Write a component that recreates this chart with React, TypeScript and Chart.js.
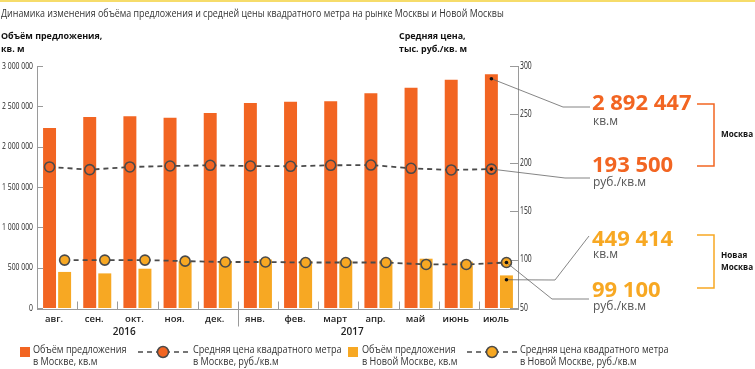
import { useEffect, useRef } from "react";
import { Chart, registerables } from "chart.js";

Chart.register(...registerables);

const months = ["авг.", "сен.", "окт.", "ноя.", "дек.", "янв.", "фев.", "март", "апр.", "май", "июнь", "июль"];
const years = ["2016", "2017"];
const moscowVolume = [2228000, 2364000, 2372000, 2355000, 2413000, 2537000, 2554000, 2558000, 2657000, 2727000, 2826000, 2892447];
const newMoscowVolume = [443000, 425000, 483000, 575000, 578000, 597000, 580000, 583000, 585000, 607000, 570000, 400000];
const moscowPrice = [195.7, 192.9, 195.7, 196.7, 197.4, 196.7, 196.4, 197.4, 197.7, 194.3, 192.6, 193.5];
const newMoscowPrice = [99.5, 99.5, 99.5, 98.4, 97.5, 97.5, 97.0, 97.0, 97.0, 95.0, 95.0, 97.0];
const leftTicks = [0, 500000, 1000000, 1500000, 2000000, 2500000, 3000000];
const leftTickLabels = ["0", "500 000", "1 000 000", "1 500 000", "2 000 000", "2 500 000", "3 000 000"];
const rightTicks = [50, 100, 150, 200, 250, 300];
const rightTickLabels = ["50", "100", "150", "200", "250", "300"];
const titleText = "Динамика изменения объёма предложения и средней цены квадратного метра на рынке Москвы и Новой Москвы";
const leftAxisTitle = ["Объём предложения,", "кв. м"];
const rightAxisTitle = ["Средняя цена,", "тыс. руб./кв. м"];
const legendLabels = [
  ["Объём предложения", "в Москве, кв.м"],
  ["Средняя цена квадратного метра", "в Москве, руб./кв.м"],
  ["Объём предложения", "в Новой Москве, кв.м"],
  ["Средняя цена квадратного метра", "в Новой Москве, руб./кв.м"],
];
const calloutValues = ["2 892 447", "193 500", "449 414", "99 100"];
const calloutUnits = ["кв.м", "руб./кв.м", "кв.м", "руб./кв.м"];
const groupNames = [["Москва"], ["Новая", "Москва"]];

const ORANGE = "#F26522";
const YELLOW = "#F7A823";
const LINE = "#4a4a4a";
const OFF = 0.1875;
const SANS = "'Open Sans', 'Noto Sans', sans-serif";

function polyline(ctx: CanvasRenderingContext2D, pts: number[][]) {
  ctx.beginPath();
  ctx.moveTo(pts[0][0], pts[0][1]);
  for (let i = 1; i < pts.length; i++) ctx.lineTo(pts[i][0], pts[i][1]);
  ctx.stroke();
}

function txt(ctx: CanvasRenderingContext2D, s: string, x: number, y: number, sx = 1) {
  ctx.save();
  ctx.translate(x, y);
  ctx.scale(sx, 1);
  ctx.fillText(s, 0, 0);
  ctx.restore();
}

function dot(ctx: CanvasRenderingContext2D, x: number, y: number) {
  ctx.beginPath();
  ctx.arc(x, y, 1.8, 0, Math.PI * 2);
  ctx.fillStyle = "#111";
  ctx.fill();
}

const decor = {
  id: "decor",
  beforeDraw(chart: any) {
    const ctx = chart.ctx as CanvasRenderingContext2D;
    ctx.save();
    ctx.fillStyle = "#fff";
    ctx.fillRect(0, 0, chart.width, chart.height);
    ctx.fillStyle = "#F6DC6A";
    ctx.fillRect(0, 0, chart.width, 2);
    ctx.restore();
  },
  beforeDatasetsDraw(chart: any) {
    const ctx = chart.ctx as CanvasRenderingContext2D;
    const { left, right, top, bottom } = chart.chartArea;
    const x = chart.scales.x;
    const y = chart.scales.y;
    const y1 = chart.scales.y1;
    ctx.save();
    ctx.strokeStyle = "#9a9a9a";
    ctx.lineWidth = 1;
    const base = bottom + 1.5;
    polyline(ctx, [[left + 0.5, top], [left + 0.5, base]]);
    polyline(ctx, [[right - 0.5, top], [right - 0.5, base]]);
    polyline(ctx, [[left, base], [right, base]]);
    leftTicks.forEach((v) => {
      const py = Math.round(y.getPixelForValue(v)) + 0.5;
      polyline(ctx, [[left, py], [left + 6, py]]);
    });
    rightTicks.forEach((v) => {
      const py = Math.round(y1.getPixelForValue(v)) + 0.5;
      polyline(ctx, [[right - 9, py], [right, py]]);
    });
    for (let i = 0; i < months.length - 1; i++) {
      const px = Math.round(x.getPixelForValue(i + 0.5)) + 0.5;
      if (i === 4) polyline(ctx, [[px, base - 8], [px, base + 17]]);
      else polyline(ctx, [[px, base - 8], [px, base]]);
    }
    ctx.fillStyle = "#222";
    ctx.font = `9.5px ${SANS}`;
    ctx.textBaseline = "middle";
    ctx.textAlign = "right";
    leftTicks.forEach((v, i) => txt(ctx, leftTickLabels[i], 33, y.getPixelForValue(v), 0.72));
    ctx.textAlign = "left";
    ctx.font = `10px ${SANS}`;
    rightTicks.forEach((v, i) => txt(ctx, rightTickLabels[i], right + 1, y1.getPixelForValue(v), 0.68));
    ctx.font = `600 9.5px ${SANS}`;
    ctx.textAlign = "center";
    months.forEach((m, i) => ctx.fillText(m, x.getPixelForValue(i) - 3, 319));
    ctx.font = `600 10px ${SANS}`;
    ctx.fillText(years[0], x.getPixelForValue(1.67), 332);
    ctx.fillText(years[1], x.getPixelForValue(7.35), 332);
    ctx.restore();
  },
  afterDatasetsDraw(chart: any) {
    const ctx = chart.ctx as CanvasRenderingContext2D;
    const x = chart.scales.x;
    const y = chart.scales.y;
    const y1 = chart.scales.y1;
    const last = months.length - 1;
    ctx.save();
    ctx.fillStyle = "#333";
    ctx.textBaseline = "middle";
    ctx.textAlign = "left";
    ctx.font = `10px ${SANS}`;
    txt(ctx, titleText, 1, 14, 0.89);
    ctx.fillStyle = "#111";
    ctx.font = `bold 9.5px ${SANS}`;
    txt(ctx, leftAxisTitle[0], 1, 36, 0.94);
    txt(ctx, leftAxisTitle[1], 1, 49, 0.94);
    txt(ctx, rightAxisTitle[0], 399, 36, 0.94);
    txt(ctx, rightAxisTitle[1], 399, 49, 0.94);

    const xo = x.getPixelForValue(last - OFF);
    const xy = x.getPixelForValue(last + OFF);
    const pMosBar = [xo, y.getPixelForValue(moscowVolume[last]) + 4];
    const pMosPrice = [xo, y1.getPixelForValue(moscowPrice[last])];
    const pNewPrice = [xy, y1.getPixelForValue(newMoscowPrice[last])];
    const pNewBar = [xy, y.getPixelForValue(newMoscowVolume[last]) + 4];
    ctx.strokeStyle = "#666";
    ctx.lineWidth = 0.8;
    polyline(ctx, [pMosBar, [563, 107], [590, 107]]);
    polyline(ctx, [pMosPrice, [565, 178], [590, 178]]);
    polyline(ctx, [pNewBar, [555, 280], [589, 236]]);
    polyline(ctx, [pNewPrice, [552, 299], [589, 299]]);
    [pMosBar, pMosPrice, pNewPrice, pNewBar].forEach((p) => dot(ctx, p[0], p[1]));

    ctx.textBaseline = "alphabetic";
    ctx.textAlign = "left";
    const valueY = [110, 172, 246, 297];
    const unitY = [125, 186, 258, 310];
    calloutValues.forEach((v, i) => {
      ctx.fillStyle = i < 2 ? ORANGE : YELLOW;
      ctx.font = `bold 22px ${SANS}`;
      ctx.fillText(v, 592, valueY[i]);
      ctx.fillStyle = "#555";
      ctx.font = `12px ${SANS}`;
      ctx.fillText(calloutUnits[i], 593, unitY[i]);
    });
    ctx.lineWidth = 1.5;
    ctx.strokeStyle = ORANGE;
    polyline(ctx, [[697, 104], [714, 104], [714, 166], [697, 166]]);
    ctx.strokeStyle = YELLOW;
    polyline(ctx, [[697, 235], [714, 235], [714, 288], [697, 288]]);
    ctx.fillStyle = "#111";
    ctx.font = `bold 9.5px ${SANS}`;
    ctx.textBaseline = "middle";
    txt(ctx, groupNames[0][0], 721, 134, 0.86);
    txt(ctx, groupNames[1][0], 721, 255, 0.86);
    txt(ctx, groupNames[1][1], 721, 267, 0.86);

    const legendItems = [
      { kind: "box", color: ORANGE, x0: 20, tx: 33 },
      { kind: "line", color: ORANGE, x0: 138, tx: 193 },
      { kind: "box", color: YELLOW, x0: 348, tx: 362 },
      { kind: "line", color: YELLOW, x0: 467, tx: 520 },
    ];
    legendItems.forEach((it, i) => {
      if (it.kind === "box") {
        ctx.fillStyle = it.color;
        ctx.fillRect(it.x0, 347, 10, 10);
      } else {
        ctx.strokeStyle = LINE;
        ctx.lineWidth = 1.6;
        ctx.setLineDash([5, 4]);
        polyline(ctx, [[it.x0, 352], [it.x0 + 50, 352]]);
        ctx.setLineDash([]);
        ctx.beginPath();
        ctx.arc(it.x0 + 25, 352, 5.5, 0, Math.PI * 2);
        ctx.fillStyle = it.color;
        ctx.fill();
        ctx.lineWidth = 1.5;
        ctx.stroke();
      }
      ctx.fillStyle = "#333";
      ctx.font = `10px ${SANS}`;
      ctx.textBaseline = "middle";
      txt(ctx, legendLabels[i][0], it.tx, 350, 0.91);
      txt(ctx, legendLabels[i][1], it.tx, 362, 0.91);
    });
    ctx.restore();
  },
};

export default function App() {
  const ref = useRef<HTMLCanvasElement>(null);
  useEffect(() => {
    const canvas = ref.current!;
    const lineCommon = {
      type: "line" as const,
      xAxisID: "x",
      yAxisID: "y1",
      borderColor: LINE,
      borderWidth: 1.8,
      borderDash: [5, 4],
      pointRadius: 5,
      pointBorderWidth: 1.6,
      pointBorderColor: LINE,
      tension: 0,
      order: 0,
    };
    const barCommon = {
      type: "bar" as const,
      xAxisID: "x",
      yAxisID: "y",
      grouped: false,
      barThickness: 12.3,
      order: 1,
    };
    const chart = new Chart(canvas, {
      type: "bar",
      data: {
        datasets: [
          {
            ...lineCommon,
            label: "Средняя цена квадратного метра в Москве, руб./кв.м",
            data: moscowPrice.map((v, i) => ({ x: i - OFF, y: v })),
            pointBackgroundColor: ORANGE,
          } as any,
          {
            ...lineCommon,
            label: "Средняя цена квадратного метра в Новой Москве, руб./кв.м",
            data: newMoscowPrice.map((v, i) => ({ x: i + OFF, y: v })),
            pointBackgroundColor: YELLOW,
          } as any,
          {
            ...barCommon,
            label: "Объём предложения в Москве, кв.м",
            data: moscowVolume.map((v, i) => ({ x: i - OFF, y: v })),
            backgroundColor: ORANGE,
          } as any,
          {
            ...barCommon,
            label: "Объём предложения в Новой Москве, кв.м",
            data: newMoscowVolume.map((v, i) => ({ x: i + OFF, y: v })),
            backgroundColor: YELLOW,
          } as any,
        ],
      },
      options: {
        responsive: false,
        animation: false,
        layout: { padding: { left: 37, right: 236, top: 66, bottom: 61 } },
        plugins: { legend: { display: false }, tooltip: { enabled: false }, title: { display: false } },
        scales: {
          x: { type: "linear", display: false, min: -0.5, max: 11.5, offset: false, grid: { offset: false } },
          y: { type: "linear", display: false, min: 0, max: 3000000 },
          y1: { type: "linear", display: false, min: 50, max: 300, position: "right" },
        },
      },
      plugins: [decor],
    });
    return () => chart.destroy();
  }, []);
  return (
    <div style={{ position: "absolute", left: 0, top: 0, width: 755, height: 369, background: "#fff" }}>
      <canvas ref={ref} width={755} height={369} style={{ width: 755, height: 369, display: "block" }} />
    </div>
  );
}
